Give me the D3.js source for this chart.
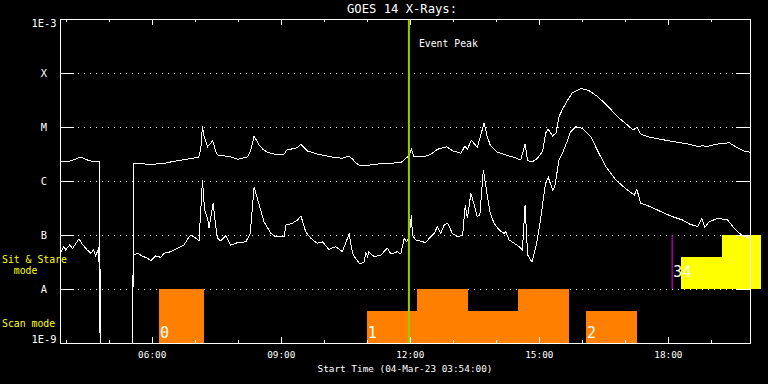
<!DOCTYPE html>
<html>
<head>
<meta charset="utf-8">
<style>
  html, body { margin: 0; background: #000; }
  svg { display: block; }
  text { font-family: "DejaVu Sans Mono", monospace; fill: #fff; }
</style>
<script src="https://cdn.jsdelivr.net/npm/d3@7"></script>
</head>
<body>
<svg id="chart"></svg>
<script>
// GOES 14 X-ray flux, 04-Mar-23 — 兩條通道 + 觀測模式色條

const width = 768;
const height = 384;

// ---- data (hour of day UT, flux W/m^2) ----
const longChannel = [
  [3.87,2.25e-6],[3.95,2.3e-6],[4.12,2.35e-6],[4.23,2.55e-6],[4.35,2.78e-6],[4.47,2.5e-6],
  [4.58,2.35e-6],[4.70,2.25e-6],[4.78,2.25e-6],[4.82,1e-10],[5.55,1e-10],[5.58,2.15e-6],
  [5.67,2.15e-6],[5.86,2.06e-6],[6.09,2.06e-6],[6.28,2.1e-6],[6.44,2.25e-6],[6.63,2.4e-6],
  [6.84,2.55e-6],[7.00,2.67e-6],[7.09,2.78e-6],[7.14,3.75e-6],[7.18,1.04e-5],[7.21,7.1e-6],
  [7.30,4.3e-6],[7.35,4.8e-6],[7.42,5.55e-6],[7.49,3.45e-6],[7.53,3.03e-6],[7.84,2.8e-6],
  [8.00,2.52e-6],[8.23,2.8e-6],[8.30,3.59e-6],[8.38,6.8e-6],[8.50,4.64e-6],[8.58,3.9e-6],
  [8.69,3.4e-6],[8.84,3.16e-6],[9.08,3.16e-6],[9.14,3.75e-6],[9.39,4.13e-6],[9.47,4.78e-6],
  [9.62,3.6e-6],[9.85,3.16e-6],[10.16,2.8e-6],[10.43,2.63e-6],[10.58,2.9e-6],[10.67,2.55e-6],
  [10.74,2.18e-6],[10.86,1.9e-6],[11.09,1.98e-6],[11.25,2.06e-6],[11.48,2.13e-6],[11.79,2.18e-6],
  [11.91,2.63e-6],[11.98,2.9e-6],[12.04,3.86e-6],[12.10,2.8e-6],[12.33,2.8e-6],[12.49,3.12e-6],
  [12.64,3.86e-6],[12.86,4.3e-6],[12.99,3.64e-6],[13.19,3.26e-6],[13.28,4.45e-6],[13.34,3.86e-6],
  [13.43,5.74e-6],[13.57,4.2e-6],[13.73,1.2e-5],[13.79,7.1e-6],[13.87,4.64e-6],[14.04,3.4e-6],
  [14.23,3.03e-6],[14.43,2.74e-6],[14.58,2.45e-6],[14.68,4.84e-6],[14.74,2.37e-6],[14.85,2.28e-6],
  [14.97,2.63e-6],[15.09,3.59e-6],[15.16,7.8e-6],[15.22,9.1e-6],[15.32,6.8e-6],[15.40,7.8e-6],
  [15.47,1.55e-5],[15.55,2.13e-5],[15.67,3.16e-5],[15.78,4.3e-5],[15.98,5.2e-5],[16.17,4.7e-5],
  [16.37,3.64e-5],[16.60,2.45e-5],[16.83,1.55e-5],[17.06,1.09e-5],[17.19,8.8e-6],[17.28,9.9e-6],
  [17.37,7.4e-6],[17.53,6.6e-6],[17.84,5.9e-6],[18.15,5.33e-6],[18.46,4.84e-6],[18.73,4.3e-6],
  [18.81,4.64e-6],[18.88,4.3e-6],[19.16,4.84e-6],[19.43,5.1e-6],[19.58,4.3e-6],[19.77,3.59e-6],
  [19.91,3.4e-6]
];

const shortChannel = [
  [3.87,4.64e-8],[3.96,6.1e-8],[4.00,5.3e-8],[4.09,6.5e-8],[4.16,5.66e-8],[4.31,8.5e-8],
  [4.37,7.0e-8],[4.50,5.3e-8],[4.58,4.58e-8],[4.65,5.3e-8],[4.70,4.08e-8],[4.77,5.9e-8],
  [4.82,1e-10],[5.55,1e-10],[5.57,4.26e-8],[5.67,4.58e-8],[5.78,4.08e-8],[5.90,3.7e-8],
  [5.98,3.34e-8],[6.09,4.08e-8],[6.21,3.86e-8],[6.29,4.58e-8],[6.44,4.9e-8],[6.60,5.66e-8],
  [6.75,6.5e-8],[6.83,8.3e-8],[6.91,1.0e-7],[6.98,9.3e-8],[7.10,7.8e-8],[7.18,1.04e-6],
  [7.23,2.9e-7],[7.30,2.04e-7],[7.33,1.33e-7],[7.43,3.86e-7],[7.49,1.43e-7],[7.53,8.7e-8],
  [7.60,7.8e-8],[7.72,9.6e-8],[7.84,6.5e-8],[7.99,7.2e-8],[8.19,7.5e-8],[8.29,1.07e-7],
  [8.38,7.8e-7],[8.50,3.59e-7],[8.61,1.76e-7],[8.77,1.07e-7],[8.88,9.3e-8],[9.08,9.3e-8],
  [9.12,1.53e-7],[9.27,1.65e-7],[9.39,1.9e-7],[9.47,2.25e-7],[9.58,1.15e-7],[9.70,8.7e-8],
  [9.85,7.0e-8],[9.97,7.5e-8],[10.12,5.4e-8],[10.28,6.1e-8],[10.43,4.9e-8],[10.59,1.04e-7],
  [10.67,4.58e-8],[10.74,3.7e-8],[10.84,2.9e-8],[10.94,3.2e-8],[10.98,4.7e-8],[11.02,3.96e-8],
  [11.05,4.9e-8],[11.17,3.96e-8],[11.33,4.26e-8],[11.44,5.3e-8],[11.48,5.66e-8],[11.56,4.45e-8],
  [11.71,4.9e-8],[11.79,4.45e-8],[11.87,8.7e-8],[11.93,7.5e-8],[11.98,9.1e-8],[12.04,2.35e-7],
  [12.06,1.0e-7],[12.14,8.1e-8],[12.30,7.5e-8],[12.37,7.2e-8],[12.45,8.7e-8],[12.57,1.07e-7],
  [12.64,1.43e-7],[12.72,1.07e-7],[12.80,1.53e-7],[12.88,1.65e-7],[12.99,1.07e-7],[13.11,9.3e-8],
  [13.23,1.0e-7],[13.29,3.59e-7],[13.34,2.04e-7],[13.42,5.9e-7],[13.51,3.34e-7],[13.57,2.18e-7],
  [13.63,2.35e-7],[13.71,1.6e-6],[13.77,7.8e-7],[13.87,2.52e-7],[13.96,1.65e-7],[14.08,1.24e-7],
  [14.19,1.07e-7],[14.23,1.15e-7],[14.31,8.1e-8],[14.43,7.0e-8],[14.54,6.1e-8],[14.62,5.3e-8],
  [14.68,3.59e-7],[14.74,4.26e-8],[14.84,3.16e-8],[14.95,7.0e-8],[15.05,2.18e-7],[15.11,5.1e-7],
  [15.16,9.1e-7],[15.22,1.17e-6],[15.32,6.8e-7],[15.37,7.8e-7],[15.47,2.45e-6],[15.55,3.26e-6],
  [15.67,5.74e-6],[15.74,8.2e-6],[15.86,1.01e-5],[16.02,9.4e-6],[16.21,6.6e-6],[16.37,3.59e-6],
  [16.56,1.84e-6],[16.79,1.04e-6],[17.06,6.8e-7],[17.22,5.5e-7],[17.28,7.0e-7],[17.37,3.86e-7],
  [17.60,3.34e-7],[17.84,2.7e-7],[18.11,2.18e-7],[18.34,1.9e-7],[18.50,1.6e-7],[18.69,1.43e-7],
  [18.79,2.04e-7],[18.86,1.39e-7],[18.96,1.76e-7],[19.16,2.04e-7],[19.39,1.9e-7],[19.51,1.43e-7],
  [19.66,1.07e-7],[19.81,9.3e-8],[19.91,8.7e-8]
];

// scan mode blocks (orange): start, end, relative height
const scanStart = [6.17, 11.00, 12.17, 13.35, 14.51, 16.10];
const scanEnd   = [7.22, 12.17, 13.35, 14.51, 15.70, 17.28];
const scanLevel = [1, 0.6, 1, 0.6, 1, 0.6];

// sit & stare blocks (yellow)
const stareStart = [18.31, 19.26];
const stareEnd   = [19.26, 20.16];
const stareLevel = [0.6, 1];
const stareMarker = 18.10;   // magenta line

// numbered pointings
const obsNames = ["0", "1", "2", "3", "4"];
const obsTimes = [6.17, 11.00, 16.10, 18.10, 18.31];
const obsMode  = ["scan", "scan", "scan", "stare", "stare"];

const eventPeak = 11.98;

const yTickValues = [1e-9, 1e-8, 1e-7, 1e-6, 1e-5, 1e-4, 1e-3];
const yTickLabels = ["1E-9", "A", "B", "C", "M", "X", "1E-3"];
const gridLevels  = [1e-8, 1e-7, 1e-6, 1e-5, 1e-4];
const majorHours  = [6, 9, 12, 15, 18];
const minorHours  = d3.range(4, 20);

// ---- layout ----
const plotLeft = 60, plotRight = 750, plotTop = 19, plotBottom = 343;

const svg = d3.select("#chart")
  .attr("width", width)
  .attr("height", height)
  .style("background", "#000");

const x = d3.scaleLinear().domain([3.868, 19.91]).range([plotLeft, plotRight]);
const y = d3.scaleLog().domain([1e-9, 1e-3]).range([plotBottom, plotTop]);

// 兩條色帶 (scan / sit & stare)
const scanBand  = d3.scaleLinear().domain([0, 1]).range([plotBottom, y(1e-8)]);
const stareBand = d3.scaleLinear().domain([0, 1]).range([y(1e-8), y(1e-7)]);

const fmtHour = h => d3.format("02d")(h) + ":00";

// dotted grid
svg.append("g")
  .selectAll("line")
  .data(gridLevels)
  .join("line")
  .attr("x1", plotLeft).attr("x2", plotRight)
  .attr("y1", d => Math.round(y(d)) + 0.5)
  .attr("y2", d => Math.round(y(d)) + 0.5)
  .attr("stroke", "#fff")
  .attr("stroke-dasharray", "1 5")
  .attr("shape-rendering", "crispEdges");

// sit & stare (yellow)
svg.append("g")
  .selectAll("rect")
  .data(d3.range(stareStart.length))
  .join("rect")
  .attr("x", i => x(stareStart[i]))
  .attr("width", i => x(stareEnd[i]) - x(stareStart[i]))
  .attr("y", i => stareBand(stareLevel[i]))
  .attr("height", i => stareBand(0) - stareBand(stareLevel[i]))
  .attr("fill", "#ffff00")
  .attr("shape-rendering", "crispEdges");

svg.append("line")
  .attr("x1", x(stareMarker)).attr("x2", x(stareMarker))
  .attr("y1", stareBand(1)).attr("y2", stareBand(0))
  .attr("stroke", "#cc00cc")
  .attr("stroke-width", 1.2);

// scan mode (orange)
svg.append("g")
  .selectAll("rect")
  .data(d3.range(scanStart.length))
  .join("rect")
  .attr("x", i => x(scanStart[i]))
  .attr("width", i => x(scanEnd[i]) - x(scanStart[i]))
  .attr("y", i => scanBand(scanLevel[i]))
  .attr("height", i => scanBand(0) - scanBand(scanLevel[i]))
  .attr("fill", "#ff8000")
  .attr("shape-rendering", "crispEdges");

// pointing numbers
svg.append("g")
  .selectAll("text")
  .data(d3.range(obsNames.length))
  .join("text")
  .attr("x", i => x(obsTimes[i]) + 1)
  .attr("y", i => obsMode[i] === "scan" ? scanBand(0) - 5 : stareBand(0) - 12)
  .attr("font-size", 15)
  .text(i => obsNames[i]);

// light curves
svg.append("clipPath").attr("id", "plotClip")
  .append("rect")
  .attr("x", plotLeft).attr("y", plotTop)
  .attr("width", plotRight - plotLeft).attr("height", plotBottom - plotTop);

const line = d3.line()
  .x(d => x(d[0]))
  .y(d => y(d[1]));

const curves = svg.append("g").attr("clip-path", "url(#plotClip)");
[longChannel, shortChannel].forEach(function (series) {
  curves.append("path")
    .datum(series)
    .attr("d", line)
    .attr("fill", "none")
    .attr("stroke", "#fff")
    .attr("stroke-width", 1)
    .attr("shape-rendering", "crispEdges");
});

// event peak
svg.append("line")
  .attr("x1", x(eventPeak)).attr("x2", x(eventPeak))
  .attr("y1", plotTop).attr("y2", plotBottom)
  .attr("stroke", "#99cc00")
  .attr("stroke-width", 2);

svg.append("text")
  .attr("x", x(eventPeak) + 10)
  .attr("y", plotTop + 28)
  .attr("font-size", 9.8)
  .text("Event Peak");

// ---- axes ----
function styleAxis(g) {
  g.select(".domain").remove();
  g.selectAll("line").attr("stroke", "#fff").attr("shape-rendering", "crispEdges");
  g.selectAll("text").attr("fill", "#fff")
    .attr("font-family", "DejaVu Sans Mono, monospace");
}

svg.append("g")
  .attr("transform", "translate(0," + plotBottom + ")")
  .call(d3.axisBottom(x).tickValues(minorHours).tickSizeInner(-3).tickFormat(""))
  .call(styleAxis);

svg.append("g")
  .attr("transform", "translate(0," + plotBottom + ")")
  .call(d3.axisBottom(x).tickValues(majorHours).tickSizeInner(-6).tickPadding(8.6).tickFormat(fmtHour))
  .call(styleAxis)
  .selectAll("text").attr("font-size", 9.4);

svg.append("g")
  .attr("transform", "translate(0," + plotTop + ")")
  .call(d3.axisTop(x).tickValues(minorHours).tickSizeInner(-3).tickFormat(""))
  .call(styleAxis);

svg.append("g")
  .attr("transform", "translate(0," + plotTop + ")")
  .call(d3.axisTop(x).tickValues(majorHours).tickSizeInner(-6).tickFormat(""))
  .call(styleAxis);

svg.append("g")
  .attr("transform", "translate(" + plotLeft + ",0)")
  .call(d3.axisLeft(y).tickValues(yTickValues).tickSizeInner(-14).tickFormat(""))
  .call(styleAxis);

svg.append("g")
  .attr("transform", "translate(" + plotRight + ",0)")
  .call(d3.axisRight(y).tickValues(yTickValues).tickSizeInner(-14).tickFormat(""))
  .call(styleAxis);

// y labels, centred 16px left of the axis
svg.append("g")
  .selectAll("text")
  .data(yTickValues)
  .join("text")
  .attr("x", plotLeft - 16)
  .attr("y", d => Math.min(Math.max(y(d) + 4, plotTop + 8), plotBottom))
  .attr("text-anchor", "middle")
  .attr("font-size", 10.4)
  .text((d, i) => yTickLabels[i]);

// frame
svg.append("rect")
  .attr("x", plotLeft + 0.5).attr("y", plotTop + 0.5)
  .attr("width", plotRight - plotLeft).attr("height", plotBottom - plotTop)
  .attr("fill", "none")
  .attr("stroke", "#fff")
  .attr("shape-rendering", "crispEdges");

// titles
svg.append("text")
  .attr("x", (plotLeft + plotRight) / 2 - 3)
  .attr("y", 13)
  .attr("text-anchor", "middle")
  .attr("font-size", 12.2)
  .text("GOES 14 X-Rays:");

svg.append("text")
  .attr("x", (plotLeft + plotRight) / 2)
  .attr("y", 372)
  .attr("text-anchor", "middle")
  .attr("font-size", 9.4)
  .text("Start Time (04-Mar-23 03:54:00)");

// mode labels (yellow)
const modeLabels = svg.append("g")
  .attr("font-size", 9.8);

modeLabels.append("text")
  .attr("x", 2).attr("y", stareBand(0.5) + 0.5)
  .style("fill", "#ffff00")
  .text("Sit & Stare");
modeLabels.append("text")
  .attr("x", 2).attr("y", stareBand(0.5) + 12)
  .style("white-space", "pre")
  .style("fill", "#ffff00")
  .text("  mode");
modeLabels.append("text")
  .attr("x", 2).attr("y", scanBand(0.3))
  .style("fill", "#ffff00")
  .text("Scan mode");
</script>
</body>
</html>
